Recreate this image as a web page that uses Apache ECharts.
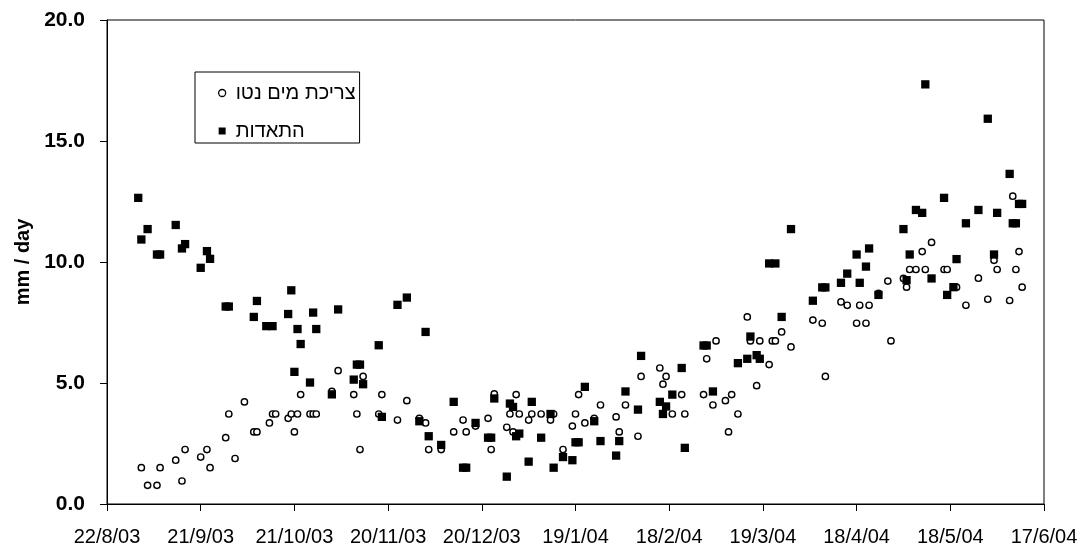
<!DOCTYPE html>
<html>
<head>
<meta charset="utf-8">
<script src="https://cdn.jsdelivr.net/npm/echarts@6/dist/echarts.min.js"></script>
<style>
  html, body { margin: 0; padding: 0; background: #fff; }
  #chart { width: 1081px; height: 549px; }
</style>
</head>
<body>
<div id="chart"></div>
<script>
// x values are days counted from 22/8/03
const xTickLabels = ['22/8/03', '21/9/03', '21/10/03', '20/11/03', '20/12/03', '19/1/04',
  '18/2/04', '19/3/04', '18/4/04', '18/5/04', '17/6/04'];

const netName = 'צריכת מים נטו';
const netDay = [11, 13, 16, 17, 22, 24, 25, 30, 32, 33, 38, 39, 41, 44, 47, 48, 52, 53, 54, 58,
  59, 60, 61, 62, 65, 66, 67, 72, 74, 79, 80, 81, 82, 87, 88, 93, 96, 100, 102, 103,
  107, 111, 114, 115, 118, 122, 123, 124, 128, 129, 130, 131, 132, 135, 136, 139, 142, 143, 146, 149,
  150, 151, 153, 156, 158, 163, 164, 166, 170, 171, 177, 178, 179, 181, 184, 185, 191, 192, 194, 195,
  198, 199, 200, 202, 205, 206, 208, 209, 212, 213, 214, 216, 219, 226, 229, 230, 235, 237, 240, 241,
  243, 244, 247, 250, 251, 255, 256, 257, 259, 261, 262, 264, 268, 269, 272, 275, 279, 282, 284, 285,
  289, 290, 291, 292, 293];
const netValue = [1.50, 0.77, 0.77, 1.50, 1.81, 0.95, 2.25, 1.94, 2.25, 1.50, 2.74, 3.72, 1.88, 4.22, 2.98, 2.98, 3.35, 3.72, 3.72, 3.54,
  3.72, 2.98, 3.72, 4.52, 3.72, 3.72, 3.72, 4.65, 5.51, 4.52, 3.72, 2.25, 5.27, 3.72, 4.52, 3.47, 4.27, 3.54, 3.35, 2.25,
  2.25, 2.98, 3.47, 2.98, 3.22, 3.54, 2.25, 4.55, 3.17, 3.72, 2.98, 4.52, 3.72, 3.47, 3.72, 3.72, 3.47, 3.72, 2.25, 3.22,
  3.72, 4.52, 3.35, 3.54, 4.09, 3.60, 2.98, 4.09, 2.80, 5.27, 5.62, 4.95, 5.27, 3.72, 4.52, 3.72, 4.52, 6.00, 4.09, 6.74,
  4.27, 2.98, 4.52, 3.72, 7.73, 6.74, 4.89, 6.74, 5.76, 6.74, 6.74, 7.11, 6.49, 7.60, 7.47, 5.27, 8.35, 8.21, 7.47, 8.21,
  7.47, 8.21, 8.70, 9.21, 6.74, 9.32, 8.96, 9.69, 9.69, 10.43, 9.69, 10.81, 9.69, 9.69, 8.96, 8.21, 9.33, 8.46, 10.07, 9.69,
  8.41, 12.72, 9.69, 10.43, 8.96];

const etName = 'התאדות';
const etDay = [10, 11, 13, 16, 17, 22, 24, 25, 30, 32, 33, 38, 39, 47, 48, 51, 53, 58, 59, 60,
  61, 62, 65, 66, 67, 72, 74, 79, 80, 81, 82, 87, 88, 93, 96, 100, 102, 103, 107, 111,
  114, 115, 118, 122, 123, 124, 128, 129, 130, 131, 132, 135, 136, 139, 142, 143, 146, 149, 150, 151,
  153, 156, 158, 163, 164, 166, 170, 171, 177, 178, 179, 181, 184, 185, 191, 192, 194, 202, 205, 206,
  208, 209, 212, 214, 216, 219, 226, 229, 230, 235, 237, 240, 241, 243, 244, 247, 255, 256, 257, 259,
  261, 262, 264, 268, 269, 271, 272, 275, 279, 282, 284, 285, 289, 290, 291, 292, 293];
const etValue = [12.65, 10.93, 11.36, 10.31, 10.31, 11.53, 10.56, 10.74, 9.76, 10.45, 10.13, 8.16, 8.16, 7.73, 8.39, 7.35, 7.35, 7.85, 8.83, 5.46,
  7.23, 6.61, 5.02, 7.91, 7.23, 4.53, 8.04, 5.14, 5.76, 5.76, 4.95, 6.56, 3.60, 8.23, 8.53, 3.42, 7.11, 2.80, 2.44, 4.22,
  1.50, 1.50, 3.35, 2.74, 2.74, 4.36, 1.13, 4.15, 4.01, 2.80, 2.91, 1.75, 4.22, 2.74, 3.72, 1.50, 1.94, 1.81, 2.55, 2.55,
  4.84, 3.42, 2.60, 2.00, 2.60, 4.65, 3.90, 6.12, 4.22, 3.72, 4.03, 4.52, 5.62, 2.32, 6.55, 6.55, 4.65, 5.82, 6.00, 6.92,
  6.15, 6.00, 9.94, 9.94, 7.73, 11.36, 8.40, 8.95, 8.95, 9.14, 9.52, 10.31, 9.14, 9.81, 10.56, 8.64, 11.36, 9.25, 10.31, 12.15,
  12.03, 17.34, 9.32, 12.65, 8.64, 8.96, 10.12, 11.60, 12.15, 15.92, 10.31, 12.03, 13.64, 11.60, 11.60, 12.40, 12.40];

const FONT = "'Liberation Sans', Arial, sans-serif";
const pairs = (xs, ys) => xs.map((x, i) => [x, ys[i]]);

const chart = echarts.init(document.getElementById('chart'), null, { renderer: 'canvas' });
chart.setOption({
  animation: false,
  backgroundColor: '#fff',
  grid: {
    left: 107, right: 37, top: 20, bottom: 45,
    show: true, borderColor: '#000', borderWidth: 1, backgroundColor: 'transparent'
  },
  legend: {
    orient: 'vertical',
    left: 195, top: 72,
    padding: [11, 4, 2, 23],
    itemGap: 18,
    itemWidth: 17, itemHeight: 7,
    symbolKeepAspect: true,
    borderColor: '#000', borderWidth: 1,
    backgroundColor: '#fff',
    selectedMode: false,
    textStyle: { fontFamily: FONT, fontSize: 20, color: '#000' },
    data: [
      { name: netName, icon: 'circle', itemStyle: { color: '#fff', borderColor: '#000', borderWidth: 1.3 } },
      { name: etName, icon: 'path://M0,0L1,0L1,1L0,1Z', itemStyle: { color: '#000', borderWidth: 0 } }
    ]
  },
  xAxis: {
    type: 'value',
    min: 0, max: 300, interval: 30,
    splitLine: { show: false },
    axisLine: { show: true, onZero: false, lineStyle: { color: '#000', width: 1 } },
    axisTick: { show: true, inside: false, length: 7, lineStyle: { color: '#000', width: 1 } },
    axisLabel: {
      margin: 23,
      fontFamily: FONT, fontSize: 20, color: '#000',
      formatter: v => xTickLabels[Math.round(v / 30)]
    }
  },
  yAxis: {
    type: 'value',
    min: 0, max: 20, interval: 5,
    name: 'mm / day',
    nameLocation: 'middle',
    nameRotate: 90,
    nameGap: 71,
    nameTextStyle: { fontFamily: FONT, fontSize: 20, fontWeight: 'bold', color: '#000' },
    splitLine: { show: false },
    axisLine: { show: true, lineStyle: { color: '#000', width: 1 } },
    axisTick: { show: true, inside: false, length: 7, lineStyle: { color: '#000', width: 1 } },
    axisLabel: {
      margin: 22,
      fontFamily: FONT, fontSize: 21, fontWeight: 'bold', color: '#000',
      formatter: v => v.toFixed(1)
    }
  },
  series: [
    {
      name: netName,
      type: 'scatter',
      symbol: 'circle',
      symbolSize: 6.3,
      itemStyle: { color: '#fff', borderColor: '#000', borderWidth: 1.4, opacity: 1 },
      emphasis: { disabled: true },
      data: pairs(netDay, netValue),
      z: 2
    },
    {
      name: etName,
      type: 'scatter',
      symbol: 'rect',
      symbolSize: 8.3,
      itemStyle: { color: '#000', opacity: 1 },
      emphasis: { disabled: true },
      data: pairs(etDay, etValue),
      z: 3
    }
  ]
});
</script>
</body>
</html>
